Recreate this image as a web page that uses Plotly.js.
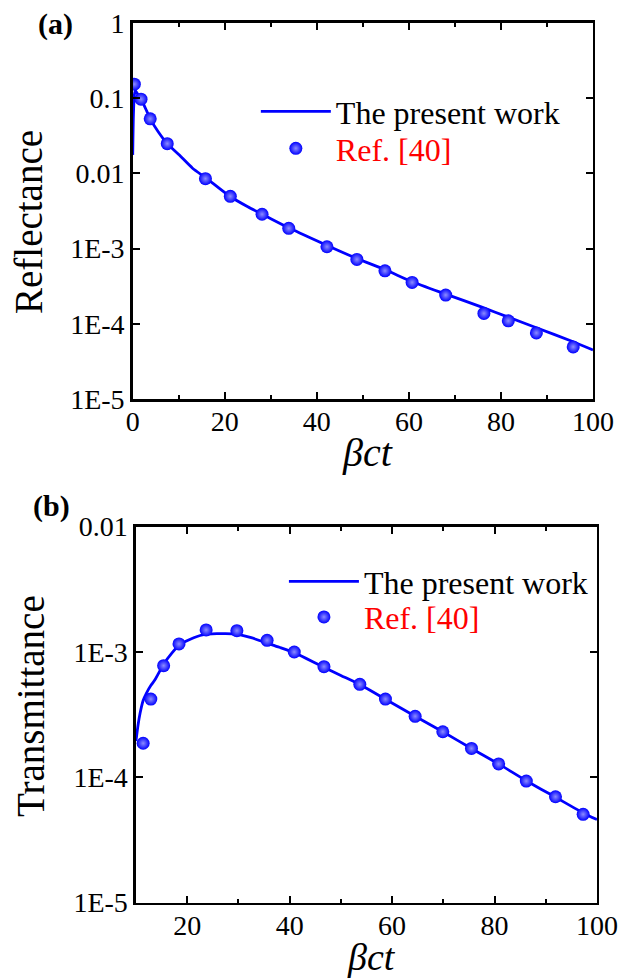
<!DOCTYPE html>
<html>
<head>
<meta charset="utf-8">
<script src="https://cdn.plot.ly/plotly-3.0.1.min.js"></script>
<style>html,body{margin:0;padding:0;background:#fff;}#chart{width:624px;height:980px;}</style>
</head>
<body>
<div id="chart"></div>
<script>
// Panel (a): reflectance
const reflLineX = [0, 0.15, 0.35, 0.6, 1, 1.8, 3, 3.8, 5.5, 7.5, 10, 13, 16, 21, 25, 28, 30, 34, 42, 48.7, 55, 60.7, 68, 76, 81.6, 87.7, 95.7, 100];
const reflLineY = [0.0176, 0.06, 0.11, 0.125, 0.115, 0.097, 0.068, 0.053, 0.036, 0.0248, 0.0178, 0.0117, 0.0086, 0.005, 0.0036, 0.0029, 0.0025, 0.00188, 0.00112, 7.4e-4, 5.2e-4, 3.63e-4, 2.49e-4, 1.66e-4, 1.23e-4, 8.9e-5, 5.8e-5, 4.5e-5];
const reflPtsX = [0.35, 1.8, 3.8, 7.5, 15.8, 21.2, 28.1, 33.9, 42.2, 48.7, 54.8, 60.7, 68, 76.3, 81.6, 87.7, 95.7];
const reflPtsY = [0.153, 0.0967, 0.0529, 0.0248, 0.0085, 0.00495, 0.00286, 0.00186, 0.00106, 7.2e-4, 5.08e-4, 3.56e-4, 2.42e-4, 1.38e-4, 1.10e-4, 7.6e-5, 4.96e-5];

// Panel (b): transmittance
const transLineX = [10, 10.4, 10.8, 11.4, 12.1, 12.9, 13.7, 15.4, 17, 18.6, 20.5, 23, 25.8, 29.7, 32.5, 35.5, 38, 41.1, 46, 50, 53.7, 58.7, 64.5, 69.9, 75.5, 80.8, 86.2, 92, 97.3, 100];
const transLineY = [1.95e-4, 2.6e-4, 3.24e-4, 4.1e-4, 4.75e-4, 5.4e-4, 6.0e-4, 8.0e-4, 9.8e-4, 1.15e-3, 1.26e-3, 1.37e-3, 1.4e-3, 1.39e-3, 1.3e-3, 1.18e-3, 1.09e-3, 9.8e-4, 7.8e-4, 6.5e-4, 5.5e-4, 4.2e-4, 3.07e-4, 2.31e-4, 1.70e-4, 1.28e-4, 9.4e-5, 6.9e-5, 5.2e-5, 4.6e-5];
const transPtsX = [11.4, 12.9, 15.4, 18.4, 23.7, 29.7, 35.6, 40.9, 46.7, 53.7, 58.7, 64.5, 69.9, 75.5, 80.8, 86.2, 91.9, 97.3];
const transPtsY = [1.87e-4, 4.21e-4, 7.78e-4, 1.16e-3, 1.50e-3, 1.48e-3, 1.24e-3, 1.0e-3, 7.64e-4, 5.52e-4, 4.21e-4, 3.07e-4, 2.31e-4, 1.70e-4, 1.28e-4, 9.34e-5, 7.0e-5, 5.07e-5];

// Tick labels and texts
const xTicksA = [0, 20, 40, 60, 80, 100];
const xTicksB = [20, 40, 60, 80, 100];
const yTickValsA = [1e-5, 1e-4, 1e-3, 0.01, 0.1, 1];
const yTickTextA = ['1E-5', '1E-4', '1E-3', '0.01', '0.1', '1'];
const yTickValsB = [1e-5, 1e-4, 1e-3, 0.01];
const yTickTextB = ['1E-5', '1E-4', '1E-3', '0.01'];
const seriesNames = ['The present work', 'Ref. [40]'];
const yTitles = ['Reflectance', 'Transmittance'];
const xTitle = '<i>βct</i>';
const panelLabels = ['(a)', '(b)'];

const FONT = "'Liberation Serif', 'Times New Roman', serif";
const BLUE = '#0000ff';

const markerStyle = {
  color: BLUE, size: 13,
  gradient: {type: 'radial', color: '#8c8cff'},
  line: {width: 0}
};
const lineStyle = {color: BLUE, width: 2.8, shape: 'spline', smoothing: 0.6};
const refName = '<span style="color:#ff0000">' + seriesNames[1] + '</span>';

const traces = [
  {x: reflLineX, y: reflLineY, xaxis: 'x', yaxis: 'y', mode: 'lines', type: 'scatter',
   line: lineStyle, name: seriesNames[0], legend: 'legend'},
  {x: reflPtsX, y: reflPtsY, xaxis: 'x', yaxis: 'y', mode: 'markers', type: 'scatter',
   marker: markerStyle, name: refName, legend: 'legend2'},
  {x: transLineX, y: transLineY, xaxis: 'x2', yaxis: 'y2', mode: 'lines', type: 'scatter',
   line: lineStyle, name: seriesNames[0], legend: 'legend3'},
  {x: transPtsX, y: transPtsY, xaxis: 'x2', yaxis: 'y2', mode: 'markers', type: 'scatter',
   marker: markerStyle, name: refName, legend: 'legend4'}
];

function axis(extra) {
  return Object.assign({
    showline: true, linecolor: '#000', linewidth: 2.5, mirror: 'ticks',
    ticks: 'inside', ticklen: 7, tickwidth: 2, tickcolor: '#000',
    showgrid: false, zeroline: false,
    tickfont: {family: FONT, size: 28, color: '#000'}
  }, extra);
}
function minorTicks() {
  return {dtick: 10, ticklen: 4, tickwidth: 2, tickcolor: '#000', ticks: 'inside'};
}
function legendAt(x, y) {
  return {x: x, y: y, xanchor: 'left', yanchor: 'top', bgcolor: 'rgba(0,0,0,0)',
    font: {family: FONT, size: 32, color: '#000'}, itemwidth: 70};
}
function note(text, px, py, size, angle, yanchor) {
  return {text: text, xref: 'paper', yref: 'paper', x: px / 624, y: 1 - py / 980,
    xanchor: 'center', yanchor: yanchor || 'middle', showarrow: false, textangle: angle || 0,
    font: {family: FONT, size: size, color: '#000'}};
}

const bottomTitle = note(xTitle, 371, 979, 38, 0, 'bottom');
bottomTitle.height = 35;
bottomTitle.valign = 'bottom';
bottomTitle.borderpad = 0;

const layout = {
  width: 624, height: 980,
  margin: {l: 0, r: 0, t: 0, b: 0},
  paper_bgcolor: '#fff', plot_bgcolor: '#fff',
  font: {family: FONT, color: '#000'},
  showlegend: true,
  xaxis: axis({
    domain: [0.2127, 0.9503], anchor: 'y', range: [0, 100],
    tickvals: xTicksA, ticktext: xTicksA.map(String), minor: minorTicks(), ticklabelstandoff: -4
  }),
  yaxis: axis({
    domain: [0.5926, 0.9768], anchor: 'x', type: 'log', range: [-5, 0],
    tickvals: yTickValsA, ticktext: yTickTextA
  }),
  xaxis2: axis({
    domain: [0.2179, 0.9567], anchor: 'y2', range: [10, 100],
    tickvals: xTicksB, ticktext: xTicksB.map(String), minor: minorTicks(), ticklabelstandoff: -4
  }),
  yaxis2: axis({
    domain: [0.0789, 0.4626], anchor: 'x2', type: 'log', range: [-5, -2],
    tickvals: yTickValsB, ticktext: yTickTextB
  }),
  legend: legendAt(0.41, 0.9143),
  legend2: legendAt(0.41, 0.8765),
  legend3: legendAt(0.455, 0.4347),
  legend4: legendAt(0.455, 0.3983),
  annotations: [
    note('<b>' + panelLabels[0] + '</b>', 55, 24, 30),
    note('<b>' + panelLabels[1] + '</b>', 51, 506, 30),
    note(yTitles[0], 28, 222, 39, -90),
    note(yTitles[1], 30, 706, 39, -90),
    note(xTitle, 367, 452, 40),
    bottomTitle
  ]
};

Plotly.newPlot('chart', traces, layout, {displayModeBar: false, staticPlot: true});
</script>
</body>
</html>
